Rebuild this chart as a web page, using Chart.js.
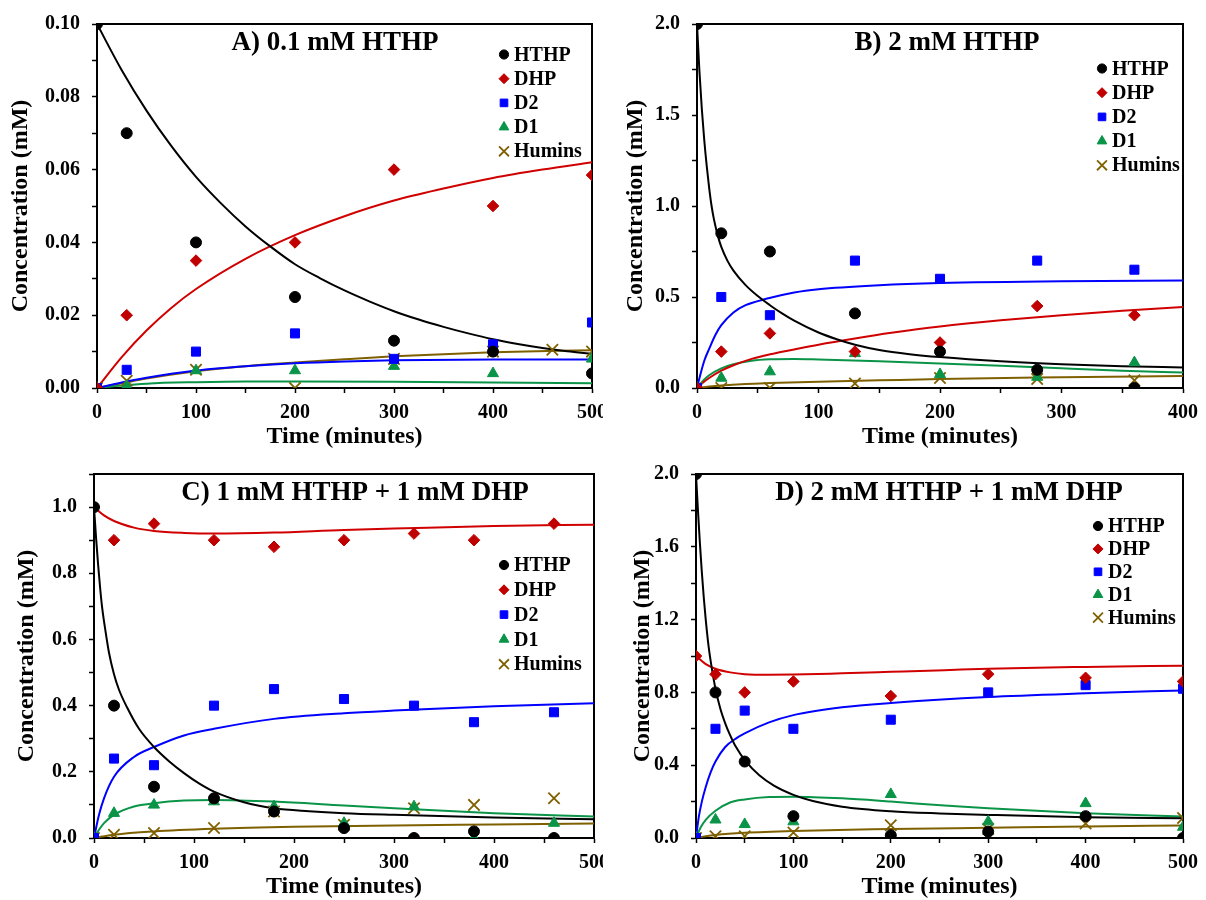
<!DOCTYPE html>
<html lang="en">
<head>
<meta charset="UTF-8">
<title>HTHP decomposition kinetics</title>
<script src="https://cdn.jsdelivr.net/npm/chart.js@4.4.3/dist/chart.umd.min.js"></script>
<style>
  body { margin: 0; background: #fff; }
  .panel { position: absolute; width: 603px; height: 450px; overflow: hidden; }
  canvas { display: block; }
</style>
</head>
<body>
<div class="panel" style="left:0;top:0"><canvas id="chartA" width="630" height="450"></canvas></div>
<div class="panel" style="left:603px;top:0"><canvas id="chartB" width="603" height="450"></canvas></div>
<div class="panel" style="left:0;top:450px"><canvas id="chartC" width="630" height="450"></canvas></div>
<div class="panel" style="left:603px;top:450px"><canvas id="chartD" width="603" height="450"></canvas></div>

<script>
// species, in legend order
const SERIES = ['HTHP', 'DHP', 'D2', 'D1', 'Humins'];

// ---- A) 0.1 mM HTHP : measured ----
const timeA   = [0, 30, 100, 200, 300, 400, 500];
const hthpA   = [0.100, 0.070, 0.040, 0.025, 0.013, 0.010, 0.004];
const dhpA    = [0, 0.020, 0.035, 0.040, 0.060, 0.050, 0.0585];
const d2A     = [0, 0.005, 0.010, 0.015, 0.008, 0.012, 0.018];
const d1A     = [0, 0.0005, 0.0048, 0.0048, 0.006, 0.004, 0.008];
const huminTimeA = [0, 30, 100, 200, 300, 400, 460, 500];
const huminsA = [0, 0.002, 0.005, 0, 0.008, 0.010, 0.0105, 0.010];
// model curves [time, conc]
const hthpFitA   = [[0,0.1],[25,0.0873],[50,0.0762],[75,0.0665],[100,0.058],[125,0.0508],[150,0.0444],[175,0.0389],[200,0.034],[225,0.0302],[250,0.0268],[275,0.0238],[300,0.0211],[325,0.0188],[350,0.0168],[375,0.015],[400,0.0134],[425,0.0121],[450,0.011],[475,0.0101],[500,0.0094]];
const dhpFitA    = [[0,0],[25,0.0085],[50,0.0158],[75,0.022],[100,0.0272],[150,0.0355],[200,0.042],[250,0.0472],[300,0.0515],[350,0.0548],[400,0.0577],[450,0.06],[500,0.062]];
const d2FitA     = [[0,0],[25,0.0015],[50,0.0028],[100,0.0048],[150,0.006],[200,0.0068],[250,0.0073],[300,0.0076],[400,0.0078],[500,0.0078]];
const d1FitA     = [[0,0],[25,0.0007],[50,0.0012],[100,0.0016],[150,0.0018],[200,0.0018],[300,0.0017],[400,0.0015],[500,0.0013]];
const huminsFitA = [[0,0],[25,0.0013],[50,0.0026],[100,0.0046],[150,0.006],[200,0.007],[250,0.0079],[300,0.0087],[400,0.0098],[500,0.0104]];

// ---- B) 2 mM HTHP ----
const timeB   = [0, 20, 60, 130, 200, 280, 360];
const hthpB   = [2.0, 0.85, 0.75, 0.41, 0.20, 0.10, 0.0];
const dhpB    = [0, 0.20, 0.30, 0.20, 0.25, 0.45, 0.40];
const d2B     = [0, 0.50, 0.40, 0.70, 0.60, 0.70, 0.65];
const d1B     = [0, 0.055, 0.09, 0.19, 0.075, 0.06, 0.14];
const huminsB = [0, 0, 0, 0.025, 0.055, 0.05, 0.042];
const hthpFitB   = [[0,2.0],[2,1.74],[4,1.53],[6,1.36],[8,1.22],[10,1.1],[12,1.0],[14,0.925],[17,0.84],[20,0.775],[25,0.7],[30,0.645],[40,0.565],[50,0.505],[60,0.455],[70,0.41],[80,0.37],[100,0.305],[115,0.268],[130,0.238],[150,0.209],[175,0.186],[200,0.17],[250,0.147],[300,0.131],[350,0.12],[400,0.113]];
const dhpFitB    = [[0,0],[5,0.03],[10,0.055],[20,0.095],[30,0.125],[45,0.16],[60,0.185],[80,0.212],[100,0.238],[130,0.272],[160,0.303],[200,0.338],[250,0.372],[300,0.4],[350,0.424],[400,0.445]];
const d2FitB     = [[0,0],[3,0.08],[6,0.15],[10,0.215],[15,0.29],[20,0.345],[30,0.415],[40,0.455],[57,0.49],[80,0.525],[100,0.543],[150,0.565],[200,0.577],[300,0.587],[400,0.59]];
const d1FitB     = [[0,0],[5,0.04],[10,0.07],[20,0.108],[30,0.13],[45,0.15],[60,0.158],[80,0.16],[100,0.157],[150,0.147],[200,0.135],[250,0.122],[300,0.108],[350,0.095],[400,0.085]];
const huminsFitB = [[0,0],[10,0.008],[20,0.014],[40,0.022],[60,0.027],[100,0.035],[150,0.042],[200,0.049],[280,0.058],[400,0.066]];

// ---- C) 1 mM HTHP + 1 mM DHP ----
const timeC   = [0, 20, 60, 120, 180, 250, 320, 380, 460];
const hthpC   = [1.0, 0.40, 0.155, 0.12, 0.08, 0.03, 0.0, 0.02, 0.0];
const dhpC    = [1.0, 0.90, 0.95, 0.90, 0.88, 0.90, 0.92, 0.90, 0.95];
const d2C     = [0, 0.24, 0.22, 0.40, 0.45, 0.42, 0.40, 0.35, 0.38];
const d1C     = [0, 0.075, 0.10, 0.11, 0.095, 0.045, 0.095, 0.0, 0.045];
const huminsC = [0, 0.01, 0.015, 0.03, 0.08, 0.04, 0.09, 0.10, 0.12];
const hthpFitC   = [[0,1.0],[2,0.91],[4,0.83],[6,0.76],[8,0.7],[11,0.635],[15,0.56],[20,0.495],[25,0.448],[33,0.395],[45,0.33],[60,0.275],[75,0.232],[90,0.196],[105,0.165],[120,0.14],[150,0.108],[180,0.09],[215,0.081],[250,0.075],[300,0.07],[400,0.062],[500,0.057]];
const dhpFitC    = [[0,1.0],[10,0.975],[20,0.958],[40,0.938],[60,0.928],[90,0.922],[120,0.92],[180,0.923],[250,0.931],[300,0.935],[400,0.943],[500,0.947]];
const d2FitC     = [[0,0],[5,0.07],[10,0.12],[20,0.185],[40,0.245],[60,0.275],[90,0.31],[120,0.33],[180,0.36],[250,0.377],[300,0.385],[400,0.398],[500,0.407]];
const d1FitC     = [[0,0],[5,0.025],[10,0.045],[20,0.07],[40,0.095],[60,0.105],[90,0.113],[120,0.115],[180,0.11],[250,0.098],[300,0.09],[400,0.075],[500,0.065]];
const huminsFitC = [[0,0],[20,0.01],[60,0.02],[120,0.028],[200,0.034],[300,0.038],[400,0.041],[500,0.044]];

// ---- D) 2 mM HTHP + 1 mM DHP ----
const timeD   = [0, 20, 50, 100, 200, 300, 400, 500];
const hthpD   = [2.0, 0.80, 0.42, 0.12, 0.015, 0.035, 0.12, 0.0];
const dhpD    = [1.0, 0.90, 0.80, 0.86, 0.78, 0.90, 0.88, 0.86];
const d2D     = [0, 0.60, 0.70, 0.60, 0.65, 0.80, 0.84, 0.82];
const d1D     = [0, 0.10, 0.075, 0.09, 0.24, 0.09, 0.19, 0.06];
const huminsD = [0, 0.01, 0.01, 0.03, 0.07, 0.05, 0.08, 0.11];
const hthpFitD   = [[0,2.0],[2,1.8],[4,1.62],[6,1.46],[8,1.32],[10,1.2],[13,1.05],[16,0.94],[20,0.82],[25,0.71],[30,0.63],[35,0.565],[40,0.51],[52,0.415],[65,0.345],[80,0.288],[100,0.237],[120,0.203],[150,0.172],[200,0.147],[250,0.135],[300,0.127],[400,0.114],[500,0.108]];
const dhpFitD    = [[0,1.0],[10,0.955],[20,0.93],[35,0.91],[50,0.9],[75,0.897],[100,0.898],[150,0.905],[200,0.913],[255,0.922],[300,0.93],[400,0.94],[500,0.947]];
const d2FitD     = [[0,0],[3,0.12],[6,0.2],[10,0.28],[15,0.36],[20,0.42],[30,0.5],[42,0.55],[50,0.575],[75,0.635],[100,0.675],[150,0.718],[200,0.742],[300,0.775],[400,0.795],[500,0.811]];
const d1FitD     = [[0,0],[5,0.06],[10,0.1],[20,0.15],[35,0.195],[50,0.212],[75,0.225],[100,0.227],[150,0.218],[200,0.2],[255,0.178],[300,0.163],[400,0.136],[500,0.118]];
const huminsFitD = [[0,0],[10,0.01],[20,0.017],[50,0.029],[100,0.039],[200,0.049],[300,0.056],[400,0.063],[500,0.069]];

// ---- styling ----
const FAMILY = "'Liberation Serif', 'Times New Roman', serif";
const TICK_FONT = { family: FAMILY, size: 20, weight: 'bold' };
const AXIS_FONT = { family: FAMILY, size: 24, weight: 'bold', lineHeight: 1 };
const MARK_COLORS = ['#000000', '#c00000', '#0000ff', '#0a9448', '#7f6000'];
const LINE_COLORS = ['#000000', '#d00000', '#0000ff', '#0a9448', '#7f6000'];
const MARKERS = [
  { pointStyle: 'circle',   radius: 5.5, legendRadius: 4.6, borderWidth: 1 },
  { pointStyle: 'rectRot',  radius: 5.8, legendRadius: 5.0, borderWidth: 1 },
  { pointStyle: 'rect',     radius: 6.4, legendRadius: 5.4, borderWidth: 1 },
  { pointStyle: 'triangle', radius: 6.4, legendRadius: 5.6, borderWidth: 1 },
  { pointStyle: 'crossRot', radius: 8.0, legendRadius: 7.0, borderWidth: 1.8 }
];

function drawMarker(ctx, i, x, y, r) {
  const m = MARKERS[i];
  ctx.save();
  ctx.fillStyle = MARK_COLORS[i];
  ctx.strokeStyle = MARK_COLORS[i];
  ctx.lineWidth = m.borderWidth;
  if (Chart.helpers && Chart.helpers.drawPoint) {
    Chart.helpers.drawPoint(ctx, { pointStyle: m.pointStyle, radius: r, rotation: 0, borderWidth: m.borderWidth }, x, y);
  }
  ctx.restore();
}

// box round the plot area (top and right sides included)
const frame = {
  id: 'frame',
  beforeDatasetsDraw(chart) {
    const { ctx, chartArea: a } = chart;
    ctx.save();
    ctx.strokeStyle = '#000';
    ctx.lineWidth = 2;
    ctx.strokeRect(a.left, a.top, a.right - a.left, a.bottom - a.top);
    ctx.restore();
  }
};

// panel heading and the species key inside the plot
const panelText = {
  id: 'panelText',
  afterDatasetsDraw(chart, args, opts) {
    const { ctx } = chart;
    ctx.save();
    ctx.fillStyle = '#000';
    ctx.font = `bold 27px ${FAMILY}`;
    ctx.textAlign = 'center';
    ctx.textBaseline = 'middle';
    ctx.fillText(opts.title, opts.titleX, opts.titleY);
    ctx.font = `bold 20px ${FAMILY}`;
    ctx.textAlign = 'left';
    SERIES.forEach((name, i) => {
      const y = opts.keyY + i * opts.keyGap;
      drawMarker(ctx, i, opts.keyX, y, MARKERS[i].legendRadius);
      ctx.fillStyle = '#000';
      ctx.fillText(name, opts.keyX + 10, y + 1);
    });
    ctx.restore();
  }
};

function isMultiple(v, step) {
  const q = v / step;
  return Math.abs(q - Math.round(q)) < 1e-6;
}

function makePanel(id, p) {
  const datasets = [];
  p.fits.forEach((fit, i) => {
    datasets.push({
      label: SERIES[i] + ' model',
      data: fit.map(([x, y]) => ({ x, y })),
      showLine: true,
      pointRadius: 0,
      borderColor: LINE_COLORS[i],
      borderWidth: 2,
      cubicInterpolationMode: 'monotone',
      order: 2
    });
  });
  p.points.forEach(([times, values], i) => {
    const m = MARKERS[i];
    datasets.push({
      label: SERIES[i],
      data: times.map((t, k) => ({ x: t, y: values[k] })),
      showLine: false,
      pointStyle: m.pointStyle,
      pointRadius: m.radius,
      pointBorderWidth: m.borderWidth,
      pointBackgroundColor: MARK_COLORS[i],
      pointBorderColor: MARK_COLORS[i],
      order: 1
    });
  });

  new Chart(document.getElementById(id), {
    type: 'scatter',
    data: { datasets },
    plugins: [frame, panelText],
    options: {
      responsive: false,
      animation: false,
      devicePixelRatio: 1,
      layout: { padding: { left: 0, top: p.top, right: p.right, bottom: 0 } },
      plugins: {
        legend: { display: false },
        tooltip: { enabled: false },
        panelText: p.text
      },
      scales: {
        x: {
          type: 'linear',
          min: 0,
          max: p.xMax,
          afterFit(scale) { scale.height = 62; },
          ticks: {
            stepSize: 50,
            autoSkip: false,
            maxRotation: 0,
            padding: 8,
            color: '#000',
            font: TICK_FONT,
            callback: v => (isMultiple(v, 100) ? String(v) : '')
          },
          grid: { drawOnChartArea: false, drawTicks: true, tickLength: 5, tickWidth: 1.5, tickColor: '#000' },
          border: { display: true, color: '#000', width: 2 },
          title: { display: true, text: 'Time (minutes)', color: '#000', font: AXIS_FONT, padding: { top: 0, bottom: 1 } }
        },
        y: {
          type: 'linear',
          min: 0,
          max: p.yMax,
          afterFit(scale) { scale.width = p.yWidth; },
          ticks: {
            stepSize: p.yStep,
            autoSkip: false,
            padding: 12,
            color: '#000',
            font: TICK_FONT,
            callback: v => (isMultiple(v, p.yLabelStep) ? v.toFixed(p.decimals) : '')
          },
          grid: { drawOnChartArea: false, drawTicks: true, tickLength: 5, tickWidth: 1.5, tickColor: '#000' },
          border: { display: true, color: '#000', width: 2 },
          title: { display: true, text: 'Concentration (mM)', color: '#000', font: AXIS_FONT, padding: { top: p.yTitlePad, bottom: 0 } }
        }
      }
    }
  });
}

makePanel('chartA', {
  xMax: 500, yMax: 0.1, yStep: 0.01, yLabelStep: 0.02, decimals: 2,
  top: 21, right: 38, yWidth: 97, yTitlePad: 9,
  fits: [hthpFitA, dhpFitA, d2FitA, d1FitA, huminsFitA],
  points: [[timeA, hthpA], [timeA, dhpA], [timeA, d2A], [timeA, d1A], [huminTimeA, huminsA]],
  text: { title: 'A) 0.1 mM HTHP', titleX: 335, titleY: 43, keyX: 504, keyY: 54.5, keyGap: 24.2 }
});

makePanel('chartB', {
  xMax: 400, yMax: 2.0, yStep: 0.25, yLabelStep: 0.5, decimals: 1,
  top: 20, right: 16, yWidth: 94, yTitlePad: 21,
  fits: [hthpFitB, dhpFitB, d2FitB, d1FitB, huminsFitB],
  points: [[timeB, hthpB], [timeB, dhpB], [timeB, d2B], [timeB, d1B], [timeB, huminsB]],
  text: { title: 'B) 2 mM HTHP', titleX: 344, titleY: 43, keyX: 499, keyY: 68.5, keyGap: 24.2 }
});

makePanel('chartC', {
  xMax: 500, yMax: 1.1, yStep: 0.1, yLabelStep: 0.2, decimals: 1,
  top: 21, right: 36, yWidth: 94, yTitlePad: 15,
  fits: [hthpFitC, dhpFitC, d2FitC, d1FitC, huminsFitC],
  points: [[timeC, hthpC], [timeC, dhpC], [timeC, d2C], [timeC, d1C], [timeC, huminsC]],
  text: { title: 'C) 1 mM HTHP + 1 mM DHP', titleX: 355, titleY: 43, keyX: 504, keyY: 115, keyGap: 24.8 }
});

makePanel('chartD', {
  xMax: 500, yMax: 2.0, yStep: 0.2, yLabelStep: 0.4, decimals: 1,
  top: 21, right: 16, yWidth: 93, yTitlePad: 28,
  fits: [hthpFitD, dhpFitD, d2FitD, d1FitD, huminsFitD],
  points: [[timeD, hthpD], [timeD, dhpD], [timeD, d2D], [timeD, d1D], [timeD, huminsD]],
  text: { title: 'D) 2 mM HTHP + 1 mM DHP', titleX: 346, titleY: 43, keyX: 495, keyY: 76, keyGap: 22.9 }
});
</script>
</body>
</html>
